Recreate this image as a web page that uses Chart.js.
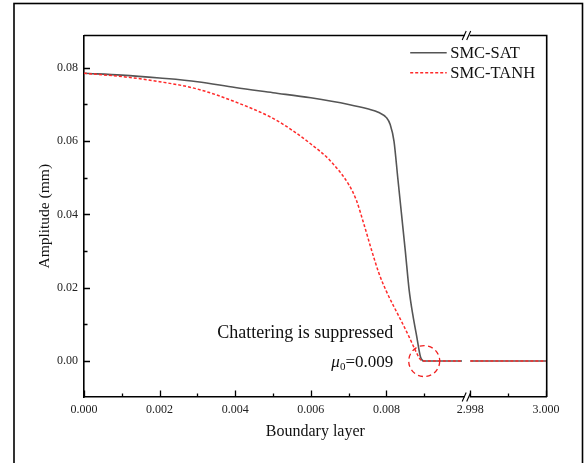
<!DOCTYPE html>
<html><head><meta charset="utf-8">
<script src="https://cdn.jsdelivr.net/npm/chart.js@4.4.0/dist/chart.umd.min.js"></script>
<style>html,body{margin:0;padding:0;background:#fff;} #wrap{position:relative;width:587px;height:463px;}</style>
</head><body><div id="wrap"><canvas id="c" width="587" height="463"></canvas></div>
<script>
// ---- data (real x values; x axis is broken between 0.010 and 2.998) ----
const satX = [0, 0.001, 0.002, 0.003, 0.004, 0.005, 0.006, 0.007, 0.0075, 0.0078, 0.008, 0.0081, 0.0082, 0.0083, 0.0084, 0.0085, 0.0086, 0.0087, 0.0088, 0.0089, 0.009, 0.0095, 0.010, 2.998, 2.999, 3.000];
const satY = [0.0785, 0.0780, 0.0772, 0.0762, 0.0746, 0.0732, 0.0718, 0.0700, 0.0688, 0.0678, 0.0664, 0.0645, 0.0600, 0.0500, 0.0400, 0.0300, 0.0195, 0.0125, 0.0068, 0.0012, 0, 0, 0, 0, 0, 0];
const tanhX = [0, 0.001, 0.002, 0.003, 0.004, 0.005, 0.0055, 0.006, 0.0065, 0.007, 0.0072, 0.0074, 0.0076, 0.0078, 0.008, 0.0082, 0.0084, 0.0086, 0.0088, 0.0089, 0.009, 0.0095, 0.010, 2.998, 2.999, 3.000];
const tanhY = [0.0785, 0.0776, 0.0762, 0.0742, 0.0707, 0.0662, 0.0630, 0.0592, 0.0548, 0.0482, 0.0440, 0.0375, 0.0305, 0.0240, 0.0190, 0.0148, 0.0108, 0.0066, 0.0022, 0.0004, 0, 0, 0, 0, 0, 0];
const seriesNames = ['SMC-SAT', 'SMC-TANH'];
const xTickValues = [0, 0.002, 0.004, 0.006, 0.008, 2.998, 3.000];
const xMinorValues = [0.001, 0.003, 0.005, 0.007, 0.009, 2.999];
const yTickValues = [0, 0.02, 0.04, 0.06, 0.08];
const yMinorValues = [0.01, 0.03, 0.05, 0.07];
const markX = 0.009, markY = 0;

// ---- axis break mapping ----
const BREAK_FROM = 0.010, BREAK_TO = 2.998, BREAK_SHIFT = 0.01022;
function toAxis(v) { return v > BREAK_FROM + 0.0001 ? v - BREAK_TO + BREAK_SHIFT : v; }
function points(xs, ys) {
  const out = [];
  for (let i = 0; i < xs.length; i++) {
    if (i > 0 && xs[i - 1] <= BREAK_FROM && xs[i] >= BREAK_TO) {
      out.push({ x: (toAxis(xs[i - 1]) + toAxis(xs[i])) / 2, y: null });
    }
    out.push({ x: toAxis(xs[i]), y: ys[i] });
  }
  return out;
}

const SERIF = '"Liberation Serif", "Times New Roman", serif';

const deco = {
  id: 'deco',
  beforeDraw(chart) {
    const ctx = chart.ctx;
    ctx.save();
    ctx.fillStyle = '#fff';
    ctx.fillRect(0, 0, chart.width, chart.height);
    ctx.restore();
  },
  afterDraw(chart) {
    const { ctx, chartArea: a, scales: { x, y } } = chart;
    ctx.save();
    // outer frame
    ctx.strokeStyle = '#000';
    ctx.lineWidth = 1.6;
    ctx.strokeRect(14, 3.5, 568.5, 480);
    // plot box top & right
    ctx.beginPath();
    ctx.moveTo(a.left, a.top); ctx.lineTo(a.right, a.top); ctx.lineTo(a.right, a.bottom);
    ctx.stroke();
    // inward ticks
    ctx.lineWidth = 1.3;
    ctx.beginPath();
    xTickValues.forEach(v => { const p = Math.round(x.getPixelForValue(toAxis(v))) + 0.5; ctx.moveTo(p, a.bottom); ctx.lineTo(p, a.bottom - 6.5); });
    xMinorValues.forEach(v => { const p = Math.round(x.getPixelForValue(toAxis(v))) + 0.5; ctx.moveTo(p, a.bottom); ctx.lineTo(p, a.bottom - 3.5); });
    yTickValues.forEach(v => { const p = Math.round(y.getPixelForValue(v)) + 0.5; ctx.moveTo(a.left, p); ctx.lineTo(a.left + 6, p); });
    yMinorValues.forEach(v => { const p = Math.round(y.getPixelForValue(v)) + 0.5; ctx.moveTo(a.left, p); ctx.lineTo(a.left + 3.5, p); });
    ctx.stroke();
    // axis break marks
    const bx = x.getPixelForValue((BREAK_FROM + BREAK_SHIFT) / 2) + 1;
    [a.top, a.bottom].forEach(yy => {
      ctx.fillStyle = '#fff';
      ctx.fillRect(bx - 2.5, yy - 1.5, 5, 3);
      ctx.strokeStyle = '#000';
      ctx.lineWidth = 1.1;
      ctx.beginPath();
      ctx.moveTo(bx - 5, yy + 4.5); ctx.lineTo(bx - 1, yy - 4.5);
      ctx.moveTo(bx - 0.5, yy + 4.5); ctx.lineTo(bx + 3.5, yy - 4.5);
      ctx.stroke();
    });
    // legend
    chart.data.datasets.forEach((ds, i) => {
      const ry = a.top + 17.2 + i * 20;
      ctx.strokeStyle = ds.borderColor;
      ctx.lineWidth = ds.borderWidth;
      ctx.setLineDash(ds.borderDash || []);
      ctx.beginPath(); ctx.moveTo(a.right - 136.5, ry); ctx.lineTo(a.right - 100, ry); ctx.stroke();
      ctx.setLineDash([]);
      ctx.fillStyle = '#111';
      ctx.font = '16.5px ' + SERIF;
      ctx.textAlign = 'left'; ctx.textBaseline = 'middle';
      ctx.fillText(ds.label, a.right - 96.5, ry + 0.5);
    });
    // annotation
    const px0 = x.getPixelForValue(toAxis(markX)), py0 = y.getPixelForValue(markY);
    const rx = px0 - 31;
    ctx.fillStyle = '#111';
    ctx.textBaseline = 'alphabetic';
    ctx.textAlign = 'right';
    ctx.font = '18px ' + SERIF;
    ctx.fillText('Chattering is suppressed', rx, py0 - 23);
    ctx.textAlign = 'left';
    ctx.font = '17px ' + SERIF;
    const t1 = '=' + markX.toFixed(3);
    const w1 = ctx.measureText(t1).width;
    ctx.font = '11px ' + SERIF;
    const w0 = ctx.measureText('0').width;
    ctx.font = 'italic 17px ' + SERIF;
    const wm = ctx.measureText('\u03bc').width;
    let sx = rx - w1 - w0 - wm;
    ctx.fillText('\u03bc', sx, py0 + 6);
    ctx.font = '11px ' + SERIF;
    ctx.fillText('0', sx + wm, py0 + 9);
    ctx.font = '17px ' + SERIF;
    ctx.fillText(t1, sx + wm + w0, py0 + 6);
    // dashed circle
    ctx.strokeStyle = '#f02020';
    ctx.lineWidth = 1.3;
    ctx.setLineDash([5, 3.5]);
    ctx.beginPath(); ctx.arc(px0, py0, 15.5, 0, Math.PI * 2); ctx.stroke();
    ctx.restore();
  }
};

new Chart(document.getElementById('c'), {
  type: 'line',
  data: {
    datasets: [
      { label: seriesNames[0], data: points(satX, satY), borderColor: '#555555', borderWidth: 1.6, pointRadius: 0, cubicInterpolationMode: 'monotone', spanGaps: false, order: 2 },
      { label: seriesNames[1], data: points(tanhX, tanhY), borderColor: '#ff2a2a', borderDash: [3, 2], borderWidth: 1.5, pointRadius: 0, cubicInterpolationMode: 'monotone', spanGaps: false, order: 1 }
    ]
  },
  options: {
    responsive: false,
    animation: false,
    devicePixelRatio: 1,
    layout: { padding: { left: 0, right: 40.3, top: 35.5, bottom: 0 } },
    plugins: { legend: { display: false }, tooltip: { enabled: false } },
    scales: {
      x: {
        type: 'linear', min: 0, max: 0.01224,
        afterBuildTicks: s => { s.ticks = xTickValues.map(v => ({ value: toAxis(v) })); },
        afterFit: s => { s.height = 66; },
        grid: { display: false, drawTicks: false },
        border: { display: true, color: '#000', width: 1.6 },
        ticks: { autoSkip: false, maxRotation: 0, padding: 6, color: '#222', font: { family: SERIF, size: 12 },
          callback: (v, i) => xTickValues[i].toFixed(3) },
        title: { display: true, text: 'Boundary layer', color: '#111', font: { family: SERIF, size: 16 }, padding: { top: 0, bottom: 22 } }
      },
      y: {
        type: 'linear', min: -0.0098, max: 0.0888,
        afterBuildTicks: s => { s.ticks = yTickValues.map(v => ({ value: v })); },
        afterFit: s => { s.width = 84; },
        grid: { display: false, drawTicks: false },
        border: { display: true, color: '#000', width: 1.6 },
        ticks: { autoSkip: false, padding: 6, color: '#222', font: { family: SERIF, size: 12 },
          callback: (v, i) => yTickValues[i].toFixed(2) },
        title: { display: true, text: 'Amplitude (mm)', color: '#111', font: { family: SERIF, size: 15.5 }, padding: { top: 36, bottom: 0 } }
      }
    }
  },
  plugins: [deco]
});
</script>
</body></html>
